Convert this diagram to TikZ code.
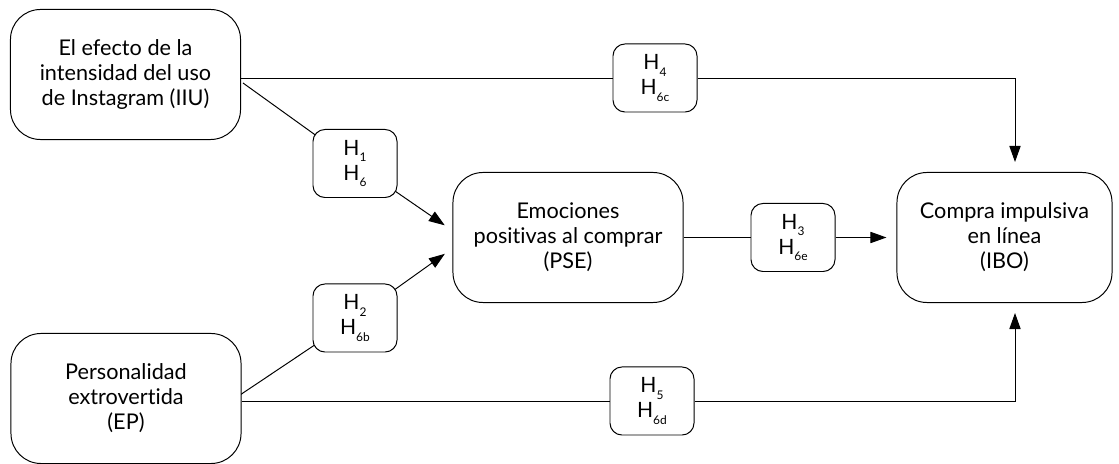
\documentclass[tikz,border=0pt]{standalone}
\usepackage{fontspec}
\setmainfont{Lato}[Ligatures=NoCommon]
\usetikzlibrary{arrows.meta,positioning}
\pgfdeclarelayer{bg}
\pgfsetlayers{bg,main}
\newcommand{\hpair}[2]{H\raisebox{-0.6ex}{\fontsize{8.5}{8.5}\selectfont #1}\\H\raisebox{-0.6ex}{\fontsize{8.5}{8.5}\selectfont #2}}

\begin{document}
\begin{tikzpicture}[x=0.025cm, y=-0.025cm,
  varbox/.style={draw, line width=0.7pt, rounded corners=0.75cm, fill=white, align=center, minimum width=5.75cm, minimum height=3.25cm, font=\fontsize{15.4}{17.8}\selectfont},
  hbox/.style={draw, line width=0.7pt, rounded corners=0.3cm, fill=white, align=center, minimum width=2.1cm, minimum height=1.7cm, font=\fontsize{15}{17.8}\selectfont},
  link/.style={line width=0.7pt},
  arr/.style={link, -{Triangle[length=0.4cm, width=0.28cm]}, shorten >=0.25cm}]
  \useasboundingbox (0,0) rectangle (1119,464);

  %% Variables
  \node[varbox] (iiu) at (125.5,74.5) {El efecto de la\\intensidad del uso\\de Instagram (IIU)};
  \node[varbox] (ep)  at (126,398.5)  {Personalidad\\extrovertida\\(EP)};
  \node[varbox] (pse) at (568,237.5)  {Emociones\\positivas al comprar\\(PSE)};
  \node[varbox, minimum width=5.375cm] (ibo) at (1004.5,237.5) {Compra impulsiva\\en línea\\(IBO)};

  %% Hypotheses
  \node[hbox] (h1) at (355,163.5) {\hpair{1}{6}};
  \node[hbox] (h2) at (355,318)   {\hpair{2}{6b}};
  \node[hbox] (h3) at (793,237.5) {\hpair{3}{6e}};
  \node[hbox] (h4) at (655,78)    {\hpair{4}{6c}};
  \node[hbox] (h5) at (652,401)   {\hpair{5}{6d}};

  %% End points
  \coordinate (s1) at (243,83);
  \coordinate (s2) at (240,395);
  \coordinate (t1) at (453,231);
  \coordinate (t2) at (453,248);
  \coordinate (t4) at (1015,172);
  \coordinate (t5) at (1015,303);

  %% Connectors
  \begin{pgfonlayer}{bg}
    \draw[link] (s1) -- (h1.center);
    \draw[arr]  (h1.center) -- (t1);
    \draw[link] (s2) -- (h2.center);
    \draw[arr]  (h2.center) -- (t2);
  \end{pgfonlayer}
  \draw[link] (iiu.east |- h4) -- (h4);
  \draw[arr]  (h4) -| (t4);
  \draw[link] (ep.east |- h5) -- (h5);
  \draw[arr]  (h5) -| (t5);
  \draw[link] (pse) -- (h3);
  \draw[arr]  (h3) -- (ibo);
\end{tikzpicture}
\end{document}
